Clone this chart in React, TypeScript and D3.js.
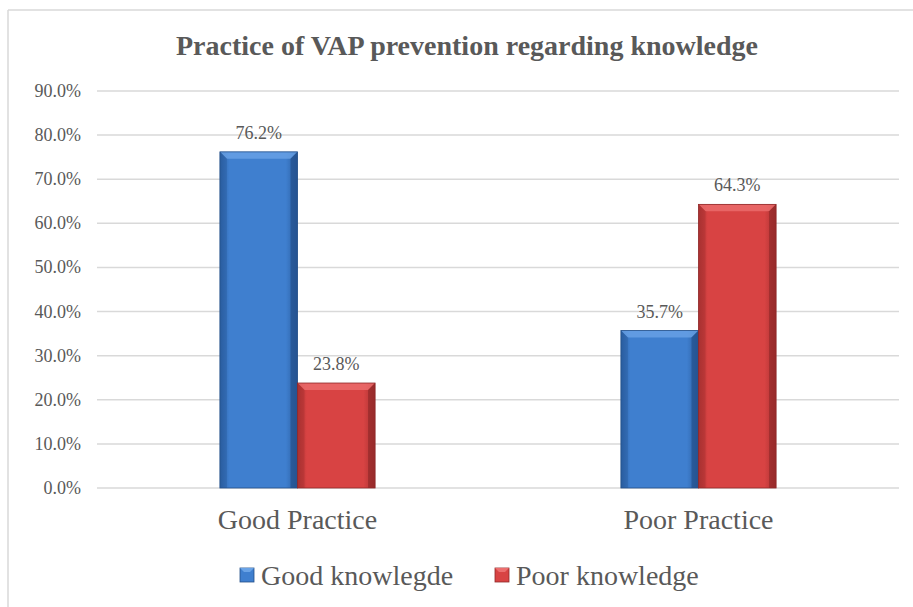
import React from "react";
import * as d3 from "d3";

const categories = ["Good Practice", "Poor Practice"];
const seriesNames = ["Good knowlegde", "Poor knowledge"];
const goodKnowledge = [76.2, 35.7];
const poorKnowledge = [23.8, 64.3];
const yTicks = [0, 10, 20, 30, 40, 50, 60, 70, 80, 90];
const title = "Practice of VAP prevention regarding knowledge";

const W = 913;
const H = 607;
const left = 97;
const right = 899;
const top = 91;
const bottom = 488;

const palettes = [
  { main: "#3f7fcf", light: "#6aa3e6", dark: "#2a5d9f", edge: "#234f88" },
  { main: "#d84343", light: "#ec6e6e", dark: "#a83131", edge: "#8f2828" },
];

function Bar({ x, y, w, h, idx }: { x: number; y: number; w: number; h: number; idx: number }) {
  const p = palettes[idx];
  const b = Math.min(7, h / 2);
  return (
    <g>
      <rect x={x} y={y} width={w} height={h} fill={`url(#grad${idx})`} />
      <polygon points={`${x},${y} ${x + w},${y} ${x + w - b},${y + b} ${x + b},${y + b}`} fill={p.light} opacity={0.8} />
      <polygon points={`${x},${y} ${x + b},${y + b} ${x + b},${y + h} ${x},${y + h}`} fill={p.dark} opacity={0.45} />
      <polygon points={`${x + w},${y} ${x + w - b},${y + b} ${x + w - b},${y + h} ${x + w},${y + h}`} fill={p.edge} opacity={0.65} />
      <rect x={x} y={y} width={w} height={h} fill="none" stroke={p.edge} strokeWidth={0.8} />
    </g>
  );
}

export default function App() {
  const x0 = d3.scaleBand<string>().domain(categories).range([left, right]).paddingInner(0.613).paddingOuter(0.3065);
  const x1 = d3.scaleBand<number>().domain([0, 1]).range([0, x0.bandwidth()]);
  const y = d3.scaleLinear().domain([0, 90]).range([bottom, top]);
  const series = [goodKnowledge, poorKnowledge];
  const textColor = "#595959";
  const ts = { fontFamily: `"Liberation Serif"` };

  return (
    <svg width={W} height={H} style={{ position: "absolute", left: 0, top: 0, background: "#fff" }}>
      <defs>
        {palettes.map((p, i) => (
          <linearGradient key={i} id={`grad${i}`} x1="0" x2="1" y1="0" y2="0">
            <stop offset="0" stopColor={p.dark} />
            <stop offset="0.12" stopColor={p.main} />
            <stop offset="0.85" stopColor={p.main} />
            <stop offset="1" stopColor={p.dark} />
          </linearGradient>
        ))}
      </defs>
      <rect x={0} y={0} width={W} height={H} fill="#fff" />
      <line x1={8} x2={W} y1={10} y2={10} stroke="#d9d9d9" strokeWidth={1.5} />
      <line x1={8} x2={8} y1={10} y2={H} stroke="#d9d9d9" strokeWidth={1.5} />

      <text x={467} y={55} textAnchor="middle" fontSize={28} fontWeight="bold" fill={textColor} style={ts}>
        {title}
      </text>

      {yTicks.map((t) => (
        <g key={t}>
          <line x1={left} x2={right} y1={y(t)} y2={y(t)} stroke="#d9d9d9" strokeWidth={1.5} />
          <text x={81} y={y(t) + 6} textAnchor="end" fontSize={18} fill={textColor} style={ts}>
            {t.toFixed(1)}%
          </text>
        </g>
      ))}

      {categories.map((c, ci) => (
        <g key={c}>
          {series.map((s, si) => {
            const bx = (x0(c) as number) + (x1(si) as number);
            const by = y(s[ci]);
            return (
              <g key={si}>
                <Bar x={bx} y={by} w={x1.bandwidth()} h={y(0) - by} idx={si} />
                <text x={bx + x1.bandwidth() / 2} y={by - 13} textAnchor="middle" fontSize={18} fill={textColor} style={ts}>
                  {s[ci].toFixed(1)}%
                </text>
              </g>
            );
          })}
          <text x={(x0(c) as number) + x0.bandwidth() / 2} y={529} textAnchor="middle" fontSize={28} fill={textColor} style={ts}>
            {c}
          </text>
        </g>
      ))}

      {seriesNames.map((n, i) => {
        const lx = i === 0 ? 240 : 495;
        return (
          <g key={n}>
            <rect x={lx} y={568} width={14} height={14} fill={palettes[i].main} stroke={palettes[i].edge} strokeWidth={0.8} />
            <polygon points={`${lx},568 ${lx + 14},568 ${lx + 10},572 ${lx + 4},572`} fill={palettes[i].light} />
            <text x={lx + 21} y={585} fontSize={28} fill={textColor} style={ts}>
              {n}
            </text>
          </g>
        );
      })}
    </svg>
  );
}
